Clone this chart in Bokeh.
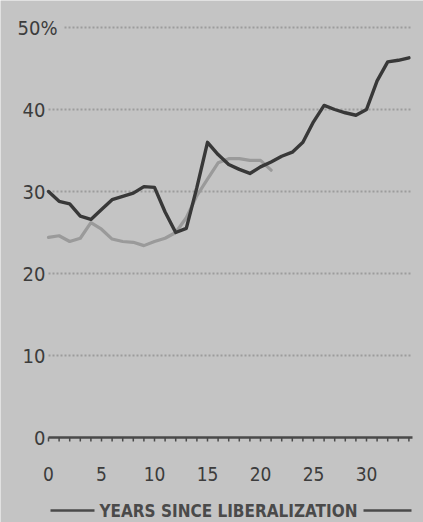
from bokeh.plotting import figure
from bokeh.models import Range1d
from bokeh.core.properties import value
from bokeh.embed import file_html
from bokeh.resources import INLINE

# Share (%) by years since liberalization
years_dark = list(range(0, 35))
share_dark = [30.0, 28.8, 28.5, 27.0, 26.6, 27.8, 29.0, 29.4, 29.8, 30.6,
              30.5, 27.5, 25.0, 25.5, 30.5, 36.0, 34.5, 33.3, 32.7, 32.2,
              33.0, 33.6, 34.3, 34.8, 36.0, 38.5, 40.5, 40.0, 39.6, 39.3,
              40.0, 43.5, 45.8, 46.0, 46.3]

years_light = list(range(0, 22))
share_light = [24.4, 24.6, 23.9, 24.3, 26.2, 25.4, 24.2, 23.9, 23.8, 23.4,
               23.9, 24.3, 25.0, 26.8, 29.5, 31.5, 33.5, 34.0, 34.0, 33.8,
               33.8, 32.6]

y_ticks = [0, 10, 20, 30, 40]
y_tick_labels = ["0", "10", "20", "30", "40"]
top_tick = 50
top_tick_label = "50%"
x_ticks = [0, 5, 10, 15, 20, 25, 30]
x_tick_labels = ["0", "5", "10", "15", "20", "25", "30"]
x_minor = list(range(0, 35))
axis_title = "YEARS SINCE LIBERALIZATION"

W, H = 423, 522
BG = "#c4c4c4"
INK = "#3c3c3c"
FONT = value("DejaVu Sans Condensed")

# pixel <-> data conversion for the fixed layout
X0_PX, X_SCALE = 48.0, 10.6      # px of year 0, px per year
Y0_PX, Y_SCALE = 437.0, 8.2      # px of 0 %, px per point
def dx(px):
    return (px - X0_PX) / X_SCALE
def dy(py):
    return (Y0_PX - py) / Y_SCALE

p = figure(width=W, height=H, output_backend="svg", toolbar_location=None,
           x_range=Range1d(dx(0), dx(W)), y_range=Range1d(dy(H), dy(0)),
           min_border=0, outline_line_color=None,
           background_fill_color=BG, border_fill_color=BG)
p.axis.visible = False
p.grid.visible = False

x_end = dx(412)

# dotted gridlines
p.segment(x0=[0] * (len(y_ticks) - 1), x1=[x_end] * (len(y_ticks) - 1),
          y0=y_ticks[1:], y1=y_ticks[1:],
          line_color="#9c9c9c", line_width=2, line_dash="2 2")
p.segment(x0=[dx(64)], x1=[x_end], y0=[top_tick], y1=[top_tick],
          line_color="#9c9c9c", line_width=2, line_dash="2 2")

# zero baseline with yearly ticks
p.segment(x0=[0], x1=[x_end], y0=[0], y1=[0], line_color="#4a4a4a", line_width=2.5)
p.segment(x0=x_minor, x1=x_minor, y0=[0] * len(x_minor),
          y1=[dy(Y0_PX + 4)] * len(x_minor), line_color="#4a4a4a", line_width=1.5)

# series
p.line(years_light, share_light, line_color="#9a9a9a", line_width=3.2,
       line_join="round", line_cap="round")
p.line(years_dark, share_dark, line_color="#383838", line_width=3.4,
       line_join="round", line_cap="round")

# y labels
p.text(x=[dx(45)] * len(y_ticks), y=y_ticks, text=y_tick_labels,
       text_align="right", text_baseline="middle", text_font=FONT,
       text_font_size="20px", text_color=INK)
p.text(x=[dx(17)], y=[top_tick], text=[top_tick_label],
       text_align="left", text_baseline="middle", text_font=FONT,
       text_font_size="20px", text_color=INK)

# x labels
p.text(x=x_ticks, y=[dy(473)] * len(x_ticks), text=x_tick_labels,
       text_align="center", text_baseline="middle", text_font=FONT,
       text_font_size="19px", text_color=INK)

# axis title flanked by rules
p.text(x=[dx(228)], y=[dy(510)], text=[axis_title],
       text_align="center", text_baseline="middle", text_font=FONT,
       text_font_size="17px", text_font_style="bold", text_color="#4a4a4a")
p.segment(x0=[dx(50), dx(363)], x1=[dx(94), dx(411)], y0=[dy(510)] * 2,
          y1=[dy(510)] * 2, line_color="#4a4a4a", line_width=2.5)

open("out.html", "w").write(file_html(p, INLINE))
